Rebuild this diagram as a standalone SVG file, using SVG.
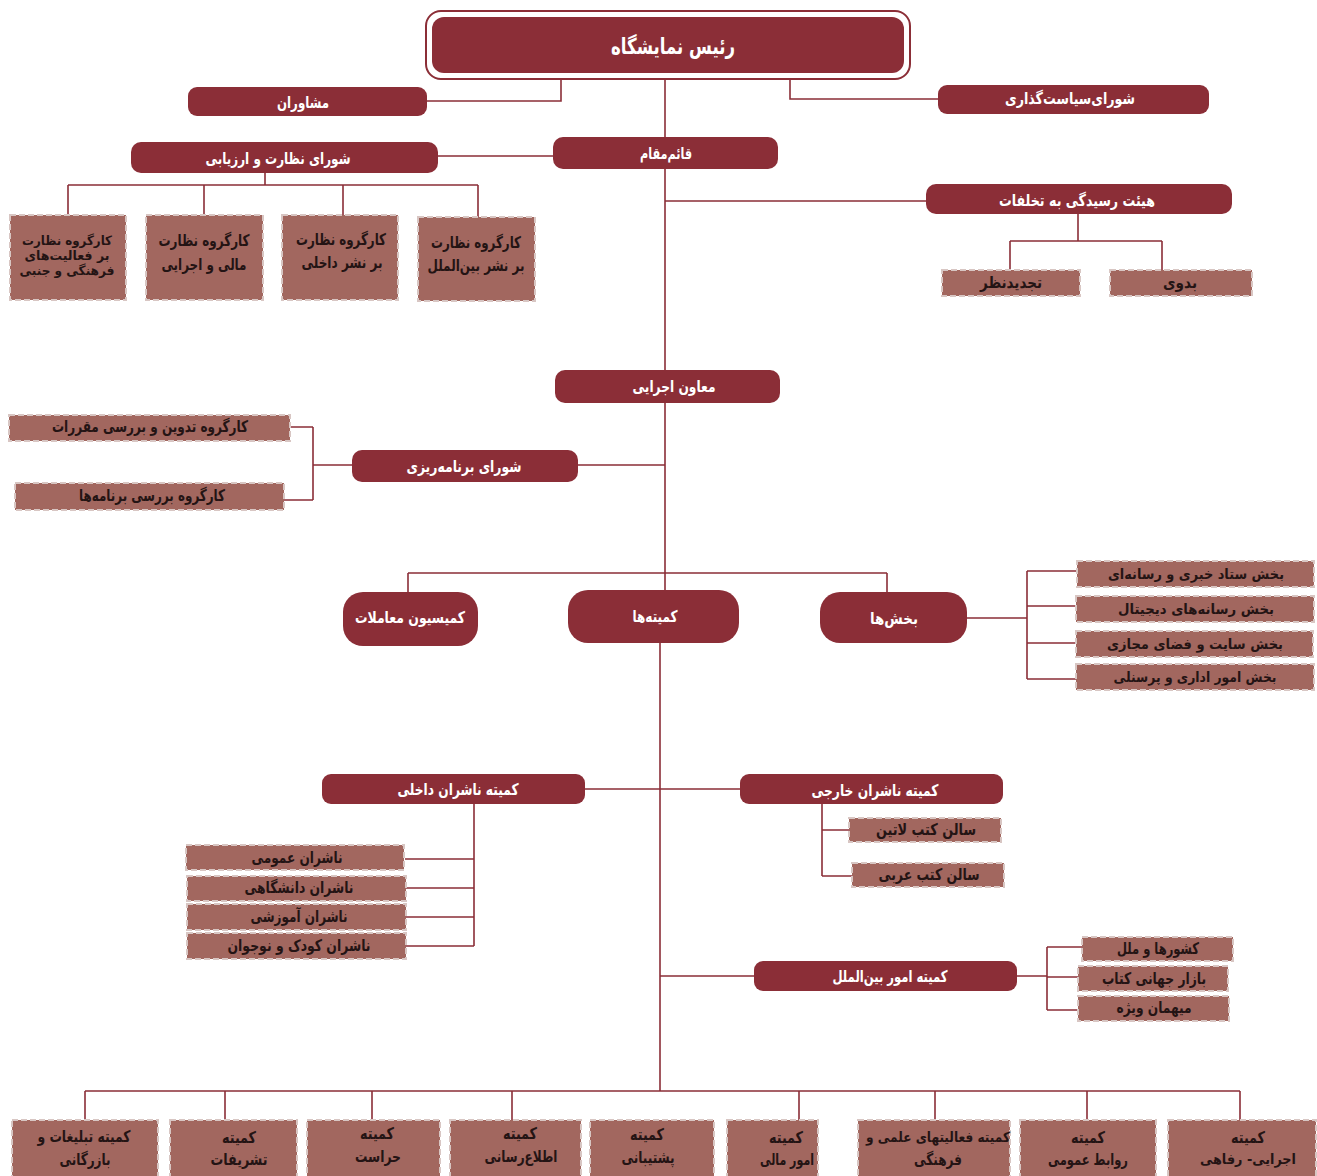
<svg xmlns="http://www.w3.org/2000/svg" width="1317" height="1176" viewBox="0 0 1317 1176">
<style>
.d{fill:#8B2E37}
.l{fill:#A2675F;stroke:#d8c6c3;stroke-width:2;stroke-dasharray:6 3}
.c{fill:none;stroke:#8B2E37;stroke-width:1.6}
text{font-family:"DejaVu Sans",sans-serif;font-weight:bold;text-anchor:middle;dominant-baseline:central;direction:rtl}
.w{fill:#ffffff;font-size:16px}
.k{fill:#241414;font-size:16px}
.s{font-size:14px}
.t{font-size:13px}
</style>
<rect width="1317" height="1176" fill="#ffffff"/>
<g id="connectors">
<path class="c" d="M561,79V101H427M790,79V99H938M665,79V137M438,156H553M665,169V370M665,201H926"/>
<path class="c" d="M265,173V185M68,185H478M68,185V215M204,185V215M343,185V215M478,185V217"/>
<path class="c" d="M1078,214V241M1010,241H1162M1010,241V270M1162,241V270"/>
<path class="c" d="M665,403V590M578,465H665M352,465H313M313,427V500M290,427H313M284,500H313"/>
<path class="c" d="M408,573H887M408,573V592M887,573V592"/>
<path class="c" d="M967,618H1027M1027,571V679M1027,571H1077M1027,606H1076M1027,643H1076M1027,679H1076"/>
<path class="c" d="M660,643V1091M585,789H740M474,804V946M405,859H474M406,888H474M406,917H474M406,946H474M822,804V876M822,830H849M822,876H852"/>
<path class="c" d="M660,976H754M1017,976H1047M1047,947V1010M1047,947H1082M1047,977H1078M1047,1010H1078"/>
<path class="c" d="M85,1091H1240M85,1091V1120M225,1091V1120M372,1091V1120M512,1091V1120M799,1091V1120M935,1091V1120M1087,1091V1120M1240,1091V1120"/>
</g>
<g id="n-head"><rect x="426" y="11" width="484" height="68" rx="15" fill="#ffffff" stroke="#8B2E37" stroke-width="2"/><rect class="d" x="432" y="17" width="472" height="56" rx="12"/><text class="w" x="673" y="46" style="font-size:22px" textLength="124" lengthAdjust="spacingAndGlyphs">رئیس نمایشگاه</text></g>
<g id="n-advisors"><rect class="d" x="188" y="87" width="239" height="29" rx="9"/><text class="w" x="303" y="102" textLength="52" lengthAdjust="spacingAndGlyphs">مشاوران</text></g>
<g id="n-policy"><rect class="d" x="938" y="85" width="271" height="29" rx="9"/><text class="w" x="1070" y="98" textLength="130" lengthAdjust="spacingAndGlyphs">شورای‌سیاست‌گذاری</text></g>
<g id="n-deputy"><rect class="d" x="553" y="137" width="225" height="32" rx="10"/><text class="w" x="666" y="153" textLength="52" lengthAdjust="spacingAndGlyphs">قائم‌مقام</text></g>
<g id="n-oversight"><rect class="d" x="131" y="142" width="307" height="31" rx="10"/><text class="w" x="278" y="158" textLength="145" lengthAdjust="spacingAndGlyphs">شورای نظارت و ارزیابی</text></g>
<g id="n-kg1"><rect class="l" x="10" y="215" width="116" height="85"/><text class="k t" x="67" y="240" textLength="90" lengthAdjust="spacingAndGlyphs">کارگروه نظارت</text><text class="k t" x="67" y="255" textLength="85" lengthAdjust="spacingAndGlyphs">بر فعالیت‌های</text><text class="k t" x="67" y="270" textLength="95" lengthAdjust="spacingAndGlyphs">فرهنگی و جنبی</text></g>
<g id="n-kg2"><rect class="l" x="146" y="215" width="117" height="85"/><text class="k" x="204" y="240" textLength="91" lengthAdjust="spacingAndGlyphs">کارگروه نظارت</text><text class="k" x="204" y="264" textLength="85" lengthAdjust="spacingAndGlyphs">مالی و اجرایی</text></g>
<g id="n-kg3"><rect class="l" x="282" y="215" width="116" height="85"/><text class="k" x="341" y="239" textLength="90" lengthAdjust="spacingAndGlyphs">کارگروه نظارت</text><text class="k" x="342" y="262" textLength="81" lengthAdjust="spacingAndGlyphs">بر نشر داخلی</text></g>
<g id="n-kg4"><rect class="l" x="418" y="217" width="117" height="84"/><text class="k" x="476" y="242" textLength="90" lengthAdjust="spacingAndGlyphs">کارگروه نظارت</text><text class="k" x="476" y="265" textLength="97" lengthAdjust="spacingAndGlyphs">بر نشر بین‌الملل</text></g>
<g id="n-violations"><rect class="d" x="926" y="184" width="306" height="30" rx="10"/><text class="w" x="1077" y="200" textLength="156" lengthAdjust="spacingAndGlyphs">هیئت رسیدگی به تخلفات</text></g>
<g id="n-appeal"><rect class="l" x="942" y="270" width="138" height="26"/><text class="k" x="1011" y="282" textLength="62" lengthAdjust="spacingAndGlyphs">تجدیدنظر</text></g>
<g id="n-initial"><rect class="l" x="1110" y="270" width="142" height="26"/><text class="k" x="1180" y="282" textLength="34" lengthAdjust="spacingAndGlyphs">بدوی</text></g>
<g id="n-exec"><rect class="d" x="555" y="370" width="225" height="33" rx="10"/><text class="w" x="674" y="386" textLength="83" lengthAdjust="spacingAndGlyphs">معاون اجرایی</text></g>
<g id="n-planning"><rect class="d" x="352" y="450" width="226" height="32" rx="10"/><text class="w" x="464" y="466" textLength="115" lengthAdjust="spacingAndGlyphs">شورای برنامه‌ریزی</text></g>
<g id="n-rules"><rect class="l" x="9" y="415" width="281" height="26"/><text class="k" x="150" y="426" textLength="196" lengthAdjust="spacingAndGlyphs">کارگروه تدوین و بررسی مقررات</text></g>
<g id="n-programs"><rect class="l" x="15" y="483" width="269" height="27"/><text class="k" x="152" y="495" textLength="146" lengthAdjust="spacingAndGlyphs">کارگروه بررسی برنامه‌ها</text></g>
<g id="n-commission"><rect class="d" x="343" y="592" width="135" height="54" rx="20"/><text class="w" x="410" y="617" textLength="110" lengthAdjust="spacingAndGlyphs">کمیسیون معاملات</text></g>
<g id="n-committees"><rect class="d" x="568" y="590" width="171" height="53" rx="20"/><text class="w" x="655" y="616" textLength="45" lengthAdjust="spacingAndGlyphs">کمیته‌ها</text></g>
<g id="n-sections"><rect class="d" x="820" y="592" width="147" height="51" rx="20"/><text class="w" x="894" y="618" textLength="48" lengthAdjust="spacingAndGlyphs">بخش‌ها</text></g>
<g id="n-s1"><rect class="l" x="1077" y="561" width="237" height="26"/><text class="k s" x="1196" y="574" textLength="176" lengthAdjust="spacingAndGlyphs">بخش ستاد خبری و رسانه‌ای</text></g>
<g id="n-s2"><rect class="l" x="1076" y="596" width="238" height="26"/><text class="k s" x="1196" y="609" textLength="156" lengthAdjust="spacingAndGlyphs">بخش رسانه‌های دیجیتال</text></g>
<g id="n-s3"><rect class="l" x="1076" y="631" width="237" height="26"/><text class="k s" x="1195" y="644" textLength="176" lengthAdjust="spacingAndGlyphs">بخش سایت و فضای مجازی</text></g>
<g id="n-s4"><rect class="l" x="1076" y="664" width="238" height="26"/><text class="k s" x="1195" y="677" textLength="163" lengthAdjust="spacingAndGlyphs">بخش امور اداری و پرسنلی</text></g>
<g id="n-domestic"><rect class="d" x="322" y="774" width="263" height="30" rx="9"/><text class="w" x="458" y="789" textLength="121" lengthAdjust="spacingAndGlyphs">کمیته ناشران داخلی</text></g>
<g id="n-foreign"><rect class="d" x="740" y="774" width="263" height="30" rx="9"/><text class="w" x="875" y="790" textLength="127" lengthAdjust="spacingAndGlyphs">کمیته ناشران خارجی</text></g>
<g id="n-d1"><rect class="l" x="186" y="845" width="218" height="25"/><text class="k" x="297" y="857" textLength="91" lengthAdjust="spacingAndGlyphs">ناشران عمومی</text></g>
<g id="n-d2"><rect class="l" x="187" y="876" width="219" height="25"/><text class="k" x="299" y="887" textLength="109" lengthAdjust="spacingAndGlyphs">ناشران دانشگاهی</text></g>
<g id="n-d3"><rect class="l" x="187" y="904" width="219" height="26"/><text class="k" x="299" y="916" textLength="97" lengthAdjust="spacingAndGlyphs">ناشران آموزشی</text></g>
<g id="n-d4"><rect class="l" x="187" y="933" width="219" height="26"/><text class="k" x="299" y="945" textLength="143" lengthAdjust="spacingAndGlyphs">ناشران کودک و نوجوان</text></g>
<g id="n-f1"><rect class="l" x="849" y="818" width="152" height="24"/><text class="k" x="926" y="829" textLength="100" lengthAdjust="spacingAndGlyphs">سالن کتب لاتین</text></g>
<g id="n-f2"><rect class="l" x="852" y="863" width="152" height="24"/><text class="k" x="929" y="874" textLength="101" lengthAdjust="spacingAndGlyphs">سالن کتب عربی</text></g>
<g id="n-intl"><rect class="d" x="754" y="961" width="263" height="30" rx="9"/><text class="w" x="890" y="976" textLength="115" lengthAdjust="spacingAndGlyphs">کمیته امور بین‌الملل</text></g>
<g id="n-i1"><rect class="l" x="1082" y="937" width="151" height="24"/><text class="k" x="1158" y="948" textLength="82" lengthAdjust="spacingAndGlyphs">کشورها و ملل</text></g>
<g id="n-i2"><rect class="l" x="1078" y="966" width="150" height="25"/><text class="k" x="1154" y="978" textLength="104" lengthAdjust="spacingAndGlyphs">بازار جهانی کتاب</text></g>
<g id="n-i3"><rect class="l" x="1078" y="996" width="151" height="25"/><text class="k" x="1154" y="1007" textLength="75" lengthAdjust="spacingAndGlyphs">میهمان ویژه</text></g>
<g id="n-b1"><rect class="l" x="12" y="1120" width="146" height="60"/><text class="k" x="84" y="1136" textLength="93" lengthAdjust="spacingAndGlyphs">کمیته تبلیغات و</text><text class="k" x="85" y="1159" textLength="51" lengthAdjust="spacingAndGlyphs">بازرگانی</text></g>
<g id="n-b2"><rect class="l" x="170" y="1120" width="127" height="60"/><text class="k" x="239" y="1137" textLength="34" lengthAdjust="spacingAndGlyphs">کمیته</text><text class="k" x="239" y="1159" textLength="57" lengthAdjust="spacingAndGlyphs">تشریفات</text></g>
<g id="n-b3"><rect class="l" x="307" y="1120" width="133" height="60"/><text class="k" x="377" y="1133" textLength="34" lengthAdjust="spacingAndGlyphs">کمیته</text><text class="k" x="378" y="1156" textLength="46" lengthAdjust="spacingAndGlyphs">حراست</text></g>
<g id="n-b4"><rect class="l" x="450" y="1120" width="131" height="60"/><text class="k" x="520" y="1133" textLength="34" lengthAdjust="spacingAndGlyphs">کمیته</text><text class="k" x="521" y="1156" textLength="73" lengthAdjust="spacingAndGlyphs">اطلاع‌رسانی</text></g>
<g id="n-b5"><rect class="l" x="590" y="1120" width="124" height="60"/><text class="k" x="647" y="1134" textLength="34" lengthAdjust="spacingAndGlyphs">کمیته</text><text class="k" x="648" y="1157" textLength="53" lengthAdjust="spacingAndGlyphs">پشتیبانی</text></g>
<g id="n-b6"><rect class="l" x="727" y="1120" width="91" height="60"/><text class="k" x="786" y="1137" textLength="34" lengthAdjust="spacingAndGlyphs">کمیته</text><text class="k" x="787" y="1159" textLength="54" lengthAdjust="spacingAndGlyphs">امور مالی</text></g>
<g id="n-b7"><rect class="l" x="858" y="1120" width="152" height="60"/><text class="k s" x="938" y="1137" textLength="144" lengthAdjust="spacingAndGlyphs">کمیته فعالیتهای علمی و</text><text class="k" x="938" y="1159" textLength="48" lengthAdjust="spacingAndGlyphs">فرهنگی</text></g>
<g id="n-b8"><rect class="l" x="1020" y="1120" width="136" height="60"/><text class="k" x="1088" y="1137" textLength="34" lengthAdjust="spacingAndGlyphs">کمیته</text><text class="k" x="1088" y="1159" textLength="80" lengthAdjust="spacingAndGlyphs">روابط عمومی</text></g>
<g id="n-b9"><rect class="l" x="1168" y="1120" width="148" height="60"/><text class="k" x="1248" y="1137" textLength="34" lengthAdjust="spacingAndGlyphs">کمیته</text><text class="k s" x="1248" y="1159" textLength="96" lengthAdjust="spacingAndGlyphs">اجرایی- رفاهی</text></g>
</svg>
